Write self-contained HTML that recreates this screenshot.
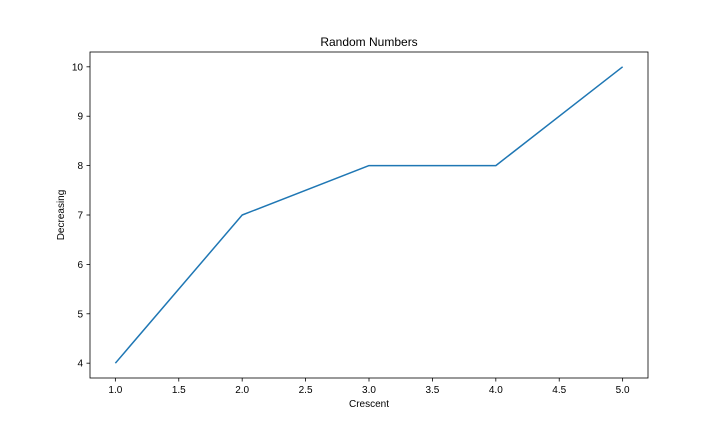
<!DOCTYPE html>
<html><head><meta charset="utf-8"><style>
html,body{margin:0;padding:0;background:#fff;}
svg{display:block;font-family:"Liberation Sans","DejaVu Sans",sans-serif;}
</style></head><body>
<svg id="chart" width="720" height="432" xmlns="http://www.w3.org/2000/svg">
<rect width="720" height="432" fill="#fff"/>
<text x="369" y="46" text-anchor="middle" font-size="12" fill="#000">Random Numbers</text>
<g id="xticks"></g>
<g id="yticks"></g>
<text x="369" y="407" text-anchor="middle" font-size="10" fill="#000">Crescent</text>
<text x="64" y="215" text-anchor="middle" font-size="10" fill="#000" transform="rotate(-90 64 215)">Decreasing</text>
<polyline id="series" fill="none" stroke="#1f77b4" stroke-width="1.5" stroke-linejoin="round"/>
<rect x="90" y="52" width="558" height="326" fill="none" stroke="#000" stroke-width="0.8"/>
</svg>
<script>
const xValues = [1, 2, 3, 4, 5];
const yValues = [4, 7, 8, 8, 10];
const xTickValues = [1.0, 1.5, 2.0, 2.5, 3.0, 3.5, 4.0, 4.5, 5.0];
const xTickLabels = ["1.0","1.5","2.0","2.5","3.0","3.5","4.0","4.5","5.0"];
const yTickValues = [4, 5, 6, 7, 8, 9, 10];
const yTickLabels = ["4","5","6","7","8","9","10"];

const L=90,R=648,T=52,B=378;
const xmin=Math.min(...xValues), xmax=Math.max(...xValues);
const ymin=Math.min(...yValues), ymax=Math.max(...yValues);
const xpad=(xmax-xmin)*0.05, ypad=(ymax-ymin)*0.05;
const x0=xmin-xpad, x1=xmax+xpad, y0=ymin-ypad, y1=ymax+ypad;
const sx=v=>L+(v-x0)/(x1-x0)*(R-L);
const sy=v=>B-(v-y0)/(y1-y0)*(B-T);
const NS="http://www.w3.org/2000/svg";
const xg=document.getElementById('xticks'), yg=document.getElementById('yticks');
xTickValues.forEach((v,i)=>{
  const l=document.createElementNS(NS,'line');
  l.setAttribute('x1',sx(v));l.setAttribute('x2',sx(v));l.setAttribute('y1',B);l.setAttribute('y2',B+3.5);
  l.setAttribute('stroke','#000');l.setAttribute('stroke-width','0.8');
  
  
  xg.appendChild(l);
  const t=document.createElementNS(NS,'text');
  t.setAttribute('x',sx(v));t.setAttribute('y',B+15);t.setAttribute('text-anchor','middle');t.setAttribute('font-size','10');
  t.textContent=xTickLabels[i];
  
  
  xg.appendChild(t);
});
yTickValues.forEach((v,i)=>{
  const l=document.createElementNS(NS,'line');
  l.setAttribute('x1',L-3.5);l.setAttribute('x2',L);l.setAttribute('y1',sy(v));l.setAttribute('y2',sy(v));
  l.setAttribute('stroke','#000');l.setAttribute('stroke-width','0.8');
  
  
  yg.appendChild(l);
  const t=document.createElementNS(NS,'text');
  t.setAttribute('x',L-7);t.setAttribute('y',sy(v)+3.5);t.setAttribute('text-anchor','end');t.setAttribute('font-size','10');
  t.textContent=yTickLabels[i];
  
  
  yg.appendChild(t);
});
document.getElementById('series').setAttribute('points', xValues.map((x,i)=>sx(x)+','+sy(yValues[i])).join(' '));
</script>
</body></html>
